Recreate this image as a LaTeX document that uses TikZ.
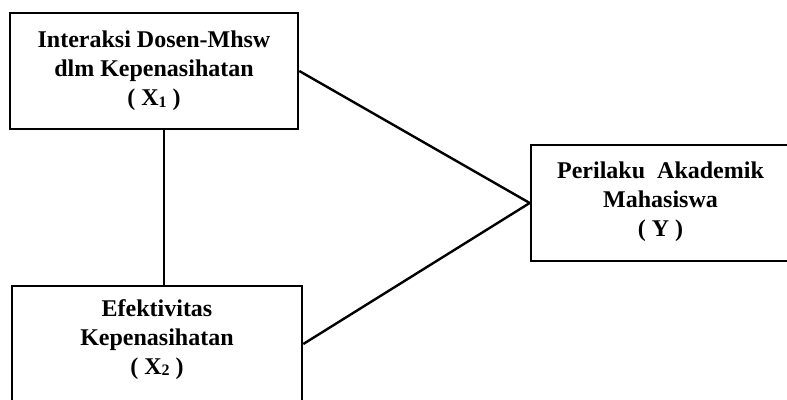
\documentclass[tikz,border=0pt]{standalone}
\usepackage{fontspec}
\setmainfont{Liberation Serif}
\newcommand{\subidx}[1]{\raisebox{-1.5pt}{\fontsize{16}{16}\selectfont #1}}
\begin{document}
\begin{tikzpicture}[x=1pt,y=-1pt,
  box/.style={draw, line width=2.6pt, align=center, inner sep=0pt,
    font=\fontsize{24}{29}\selectfont\bfseries},
  link/.style={line width=2.4pt}]
\useasboundingbox (0,0) rectangle (787,399);
\node[box, minimum width=288pt, minimum height=116pt] (x1) at (154,71)
  {Interaksi Dosen-Mhsw\\dlm Kepenasihatan\\( X\subidx{1} )};
\node[box, minimum width=290pt, minimum height=116pt] (x2) at (157,344)
  {Efektivitas\\Kepenasihatan\\( X\subidx{2} )\\[-15pt]\mbox{}};
\node[box, minimum width=259pt, minimum height=116pt] (y) at (660.5,203)
  {Perilaku\ \ Akademik\\Mahasiswa\\( Y )\\[-21pt]\mbox{}};
\draw[link] (x1.east) -- (y.west);
\draw[link] (x2.east) -- (y.west);
\draw[link] ([xshift=10pt]x1.south) -- ([xshift=10pt]x1.south |- x2.north);
\end{tikzpicture}
\end{document}
